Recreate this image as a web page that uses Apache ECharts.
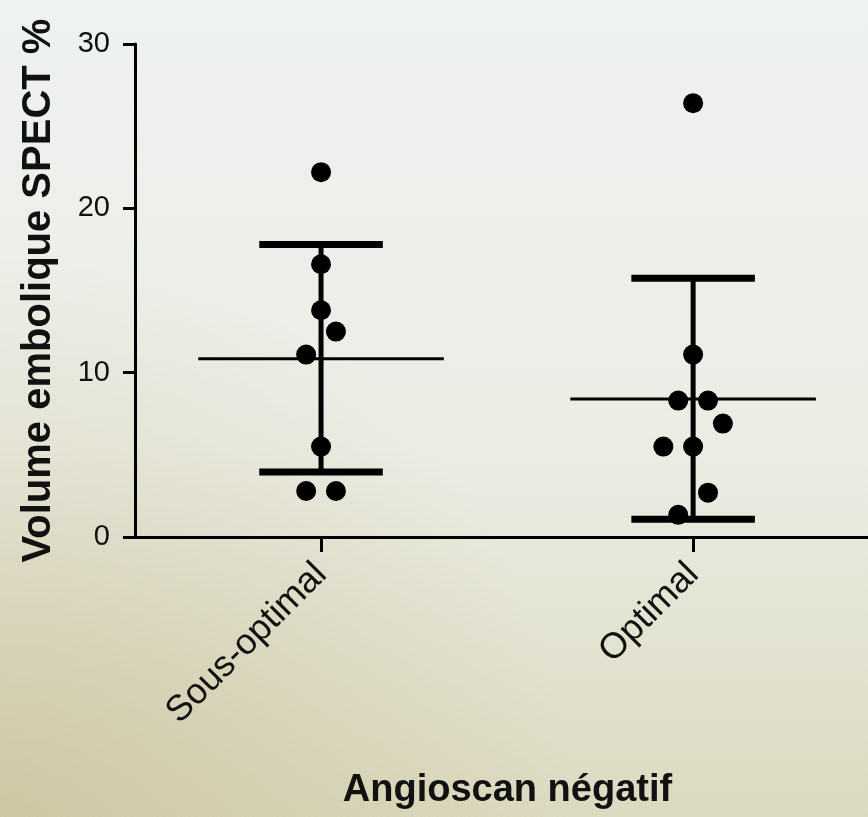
<!DOCTYPE html>
<html>
<head>
<meta charset="utf-8">
<script src="https://cdn.jsdelivr.net/npm/echarts@6/dist/echarts.min.js"></script>
<style>
html,body{margin:0;padding:0;}
#chart{width:868px;height:817px;}
</style>
</head>
<body>
<div id="chart"></div>
<script>
const categories = ['Sous-optimal', 'Optimal'];
const yTicks = [0, 10, 20, 30];
const sousOptimalValues = [22.2, 16.6, 13.8, 12.5, 11.1, 5.5, 2.8, 2.8];
const sousOptimalJitter = [0, 0, 0, 0.04, -0.04, 0, -0.04, 0.04];
const optimalValues = [26.4, 11.1, 8.3, 8.3, 6.9, 5.5, 5.5, 2.7, 1.35];
const optimalJitter = [0, 0, -0.04, 0.04, 0.08, -0.08, 0, 0.04, -0.04];
const groupMeans = [10.85, 8.4];
const groupSdLower = [3.95, 1.08];
const groupSdUpper = [17.8, 15.75];

const FONT = "'Liberation Sans', Arial, sans-serif";

const points = [];
sousOptimalValues.forEach((v, i) => points.push([1 + sousOptimalJitter[i], v]));
optimalValues.forEach((v, i) => points.push([2 + optimalJitter[i], v]));

const summary = categories.map((c, i) => [i + 1, groupMeans[i], groupSdLower[i], groupSdUpper[i]]);

const chart = echarts.init(document.getElementById('chart'), null, {renderer: 'canvas'});

const option = {
  backgroundColor: new echarts.graphic.LinearGradient(0, 0, 0, 1, [
    {offset: 0, color: '#eef2f0'},
    {offset: 0.55, color: '#ebede4'},
    {offset: 1, color: '#dbd9bf'}
  ]),
  animation: false,
  graphic: [{
    type: 'rect', silent: true, z: -10,
    shape: {x: 0, y: 0, width: 868, height: 817},
    style: {
      fill: new echarts.graphic.RadialGradient(0, 1, 0.7, [
        {offset: 0, color: 'rgba(190,176,128,0.45)'},
        {offset: 1, color: 'rgba(190,176,128,0)'}
      ])
    }
  }],
  grid: {left: 135, top: 44, bottom: 280, right: 0},
  xAxis: {
    type: 'value',
    min: 0.5,
    max: 2.47,
    name: 'Angioscan négatif',
    nameLocation: 'middle',
    nameGap: 235,
    nameTextStyle: {fontFamily: FONT, fontSize: 38, fontWeight: 'bold', color: '#111', padding: [0, 0, 0, 12]},
    axisLine: {show: true, onZero: false, lineStyle: {color: '#000', width: 3}},
    axisTick: {show: true, customValues: [1, 2], length: 15, lineStyle: {color: '#000', width: 3}},
    axisLabel: {
      show: true,
      customValues: [1, 2],
      rotate: 45,
      margin: 32,
      fontFamily: FONT,
      fontSize: 36,
      color: '#111',
      formatter: v => categories[Math.round(v) - 1] || ''
    },
    splitLine: {show: false}
  },
  yAxis: {
    type: 'value',
    min: 0,
    max: 30,
    interval: 10,
    name: 'Volume embolique SPECT %',
    nameLocation: 'middle',
    nameGap: 76,
    nameRotate: 90,
    nameTextStyle: {fontFamily: FONT, fontSize: 40, fontWeight: 'bold', color: '#111'},
    axisLine: {show: true, lineStyle: {color: '#000', width: 3}},
    axisTick: {show: true, length: 12, lineStyle: {color: '#000', width: 3}},
    axisLabel: {
      margin: 25,
      fontFamily: FONT,
      fontSize: 29,
      color: '#111',
      formatter: v => yTicks.includes(v) ? String(v) : ''
    },
    splitLine: {show: false}
  },
  series: [
    {
      type: 'custom',
      data: summary,
      z: 2,
      renderItem: function (params, api) {
        const x = api.value(0), mean = api.value(1), lo = api.value(2), hi = api.value(3);
        const capHalf = 0.166, meanHalf = 0.33;
        const pTop = api.coord([x, hi]), pBot = api.coord([x, lo]);
        const cT1 = api.coord([x - capHalf, hi]), cT2 = api.coord([x + capHalf, hi]);
        const cB1 = api.coord([x - capHalf, lo]), cB2 = api.coord([x + capHalf, lo]);
        const m1 = api.coord([x - meanHalf, mean]), m2 = api.coord([x + meanHalf, mean]);
        const black = {stroke: '#000', fill: null};
        return {
          type: 'group',
          children: [
            {type: 'line', shape: {x1: pTop[0], y1: pTop[1], x2: pBot[0], y2: pBot[1]}, style: Object.assign({lineWidth: 5}, black)},
            {type: 'line', shape: {x1: cT1[0], y1: cT1[1], x2: cT2[0], y2: cT2[1]}, style: Object.assign({lineWidth: 7}, black)},
            {type: 'line', shape: {x1: cB1[0], y1: cB1[1], x2: cB2[0], y2: cB2[1]}, style: Object.assign({lineWidth: 7}, black)},
            {type: 'line', shape: {x1: m1[0], y1: m1[1], x2: m2[0], y2: m2[1]}, style: Object.assign({lineWidth: 3}, black)}
          ]
        };
      }
    },
    {
      type: 'scatter',
      data: points,
      symbol: 'circle',
      symbolSize: 20,
      itemStyle: {color: '#000', opacity: 1},
      z: 3
    }
  ]
};
chart.setOption(option);
</script>
</body>
</html>
